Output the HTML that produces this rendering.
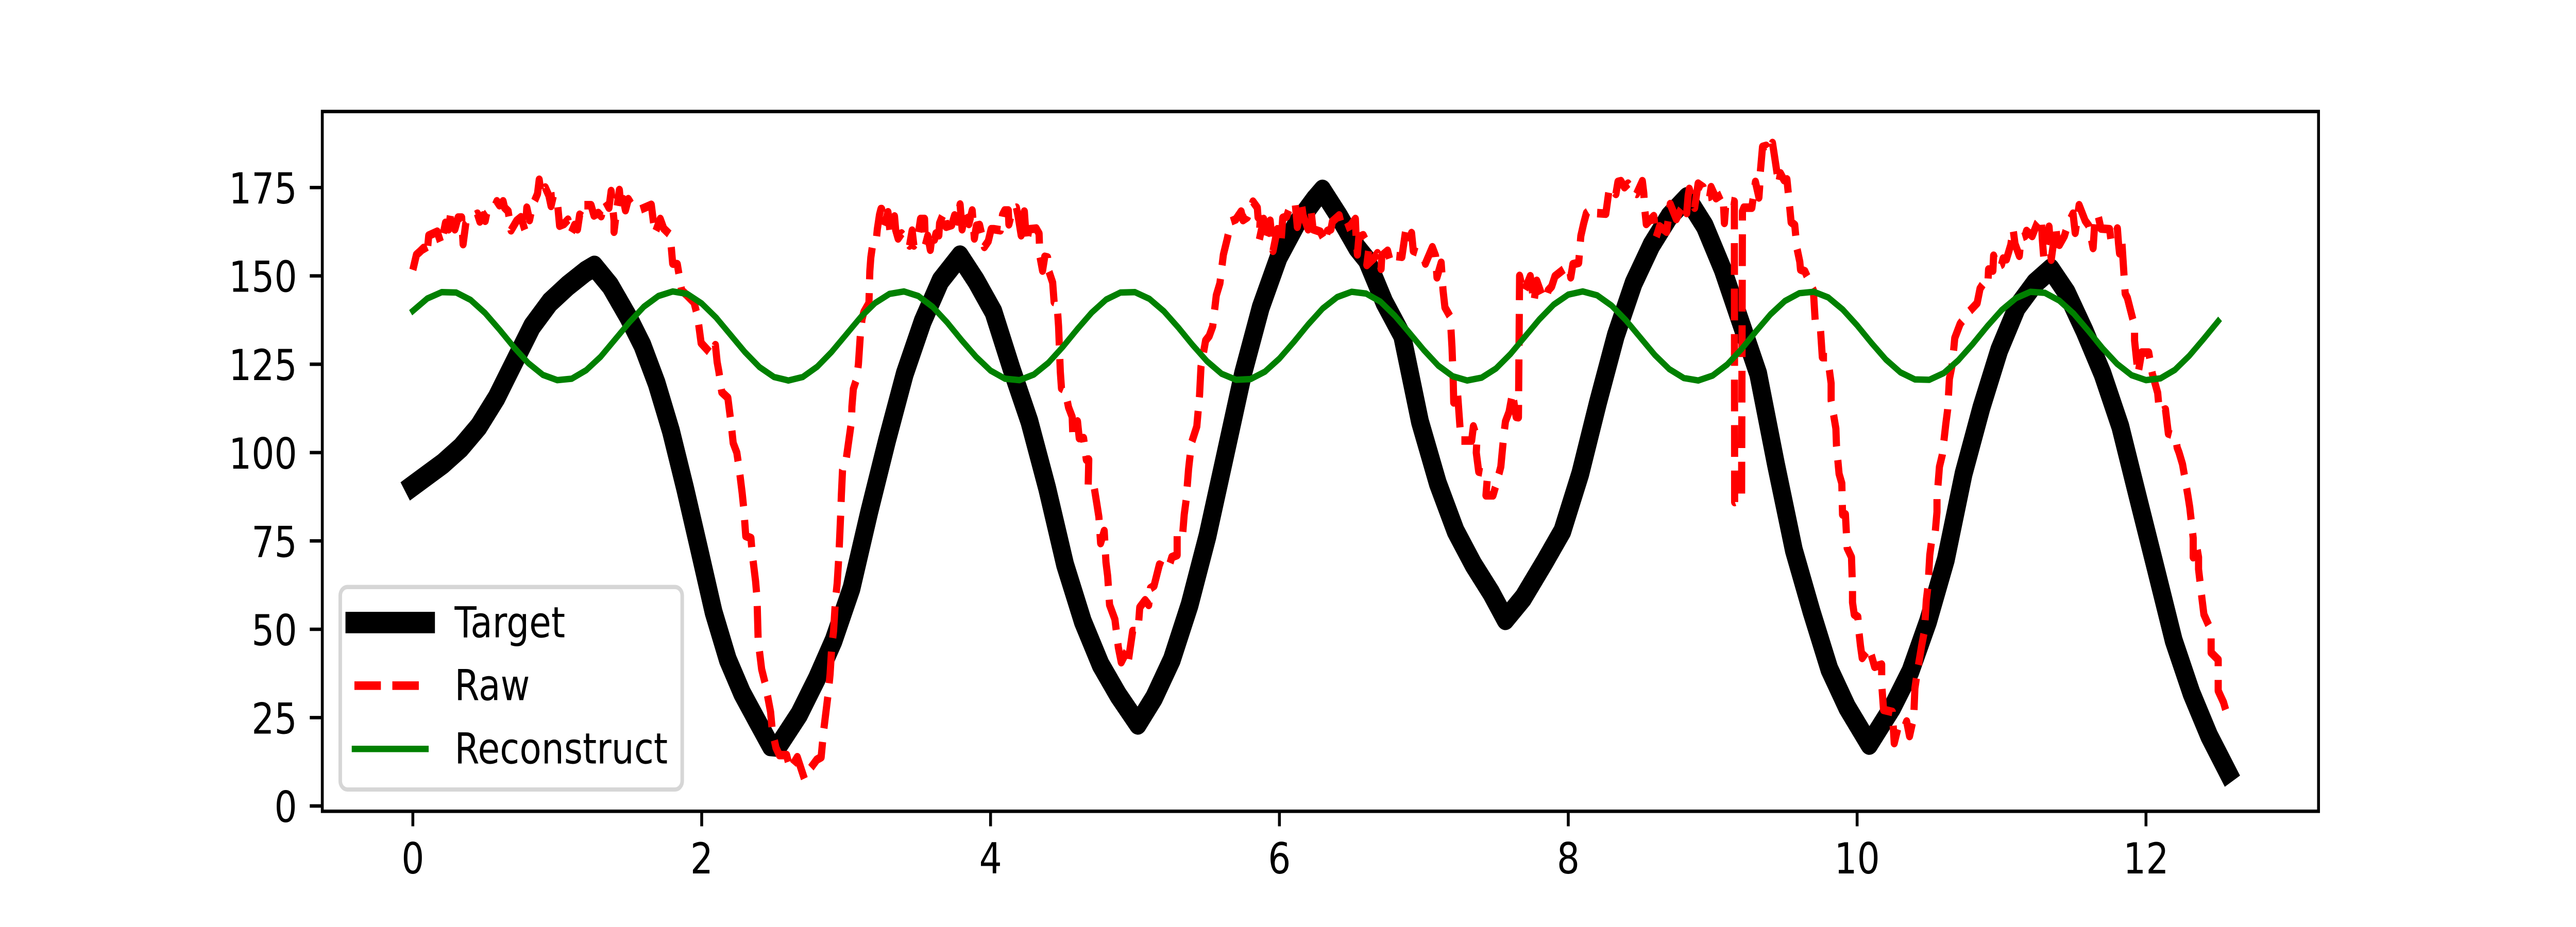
<!DOCTYPE html>
<html lang="en">
<head>
<meta charset="utf-8">
<title>Target, Raw and Reconstruct signals</title>
<style>
html,body{margin:0;padding:0;background:#fff;width:100%;height:100%;overflow:hidden}
svg{display:block;position:absolute;left:0;top:0;width:100%;height:100%}
text{font-family:"DejaVu Sans","Liberation Sans",sans-serif;font-size:83.33px;fill:#000}
</style>
</head>
<body>
<svg id="chart" xmlns="http://www.w3.org/2000/svg" viewBox="0 0 6000 1800" preserveAspectRatio="none">
  <rect x="0" y="0" width="6000" height="1800" fill="#fff"/>
  <g id="series"></g>
  <g id="ticks"></g>
  <rect x="750.7" y="216.5" width="4649.6" height="1358.8" fill="none" stroke="#000" stroke-width="6.67"/>
  <g>
    <rect x="792.5" y="1139.8" width="796.5" height="393.2" rx="16.7" ry="16.7" fill="#fff" fill-opacity="0.8" stroke="#d6d6d6" stroke-width="8.33"/>
    <g>
      <line x1="825.5" x2="992.2" y1="1208.8" y2="1208.8" stroke="#000" stroke-width="41.67" stroke-linecap="square"/>
      <text x="1058.8" y="1237.3">Target</text>
    </g>
    <g>
      <line x1="825.5" x2="992.2" y1="1331.3" y2="1331.3" stroke="#f00" stroke-width="16.67" stroke-dasharray="61.67 26.67"/>
      <text x="1058.8" y="1359.5">Raw</text>
    </g>
    <g>
      <line x1="825.5" x2="992.2" y1="1454.3" y2="1454.3" stroke="#008000" stroke-width="12.5" stroke-linecap="square"/>
      <text x="1058.8" y="1482.7">Reconstruct</text>
    </g>
  </g>
</svg>
<script>
const xTickValues = [0, 2, 4, 6, 8, 10, 12];
const xTickLabels = ["0", "2", "4", "6", "8", "10", "12"];
const yTickValues = [0, 25, 50, 75, 100, 125, 150, 175];
const yTickLabels = ["0", "25", "50", "75", "100", "125", "150", "175"];
const targetTime = [0,.209,.332,.456,.579,.702,.825,.948,1.072,1.195,1.257,1.367,1.491,1.589,1.688,1.787,1.885,1.984,2.082,2.181,2.28,2.378,2.477,2.53,2.674,2.797,2.913,3.037,3.16,3.283,3.406,3.53,3.653,3.788,3.9,4.02,4.146,4.269,4.392,4.516,4.639,4.762,4.885,5.02,5.132,5.255,5.378,5.502,5.625,5.748,5.871,5.995,6.118,6.241,6.298,6.414,6.537,6.604,6.727,6.85,6.973,7.097,7.22,7.343,7.466,7.565,7.688,7.836,7.959,8.083,8.206,8.329,8.452,8.576,8.699,8.822,8.945,9.069,9.192,9.315,9.438,9.562,9.685,9.808,9.931,10.084,10.244,10.368,10.491,10.614,10.737,10.861,10.984,11.107,11.23,11.341,11.452,11.575,11.699,11.822,11.945,12.069,12.192,12.315,12.438,12.566];
const targetValues = [90.6,96.9,101.4,107.4,115.5,125.6,135.7,142.5,147.2,151.2,152.7,147.2,138.4,130.4,119.6,106.1,89.9,72.4,54.9,41.4,31.9,24.5,17.1,16.9,25.9,36,46.8,61.6,83.2,103.4,122.3,137.1,148.6,155.6,148.6,139.8,123.6,108.8,89.9,68.3,52.2,40,31.3,23.2,30.6,41.4,56.9,76.4,99.3,122.3,141.1,155.3,164.7,171.5,174.2,166.8,158,154.6,142.5,133.1,108.8,91.3,77.8,68.3,60.3,52.8,58.9,69,77.8,94,114.2,133.1,147.9,158.7,166.8,172.1,164.1,151.9,137.1,122.3,96.7,72.4,54.9,38.7,27.9,17.5,27.9,38,52.2,69.7,94,112.8,129,141.1,147.9,151.9,145.2,134.4,122.3,107.4,87.2,67,46.8,31.9,19.8,9.6];
const rawTime = [0,.025,.05,.075,.097,.11,.169,.196,.226,.248,.263,.288,.291,.313,.338,.348,.367,.397,.447,.464,.486,.501,.511,.536,.561,.582,.6,.625,.635,.66,.68,.719,.749,.779,.789,.808,.828,.863,.875,.888,.917,.942,.957,.972,.997,1.016,1.046,1.074,1.096,1.12,1.14,1.155,1.18,1.187,1.234,1.254,1.284,1.304,1.334,1.358,1.373,1.383,1.393,1.393,1.408,1.43,1.443,1.457,1.472,1.492,1.516,1.577,1.651,1.676,1.713,1.737,1.782,1.799,1.831,1.861,1.898,1.947,1.972,1.996,2.07,2.095,2.107,2.119,2.139,2.181,2.206,2.218,2.243,2.26,2.28,2.292,2.305,2.341,2.349,2.373,2.383,2.391,2.415,2.44,2.477,2.489,2.514,2.538,2.588,2.612,2.662,2.711,2.748,2.797,2.827,2.844,2.876,2.889,2.901,2.913,2.926,2.938,2.95,2.963,2.967,2.975,3,3.037,3.04,3.05,3.073,3.085,3.098,3.11,3.123,3.158,3.164,3.171,3.181,3.206,3.216,3.231,3.241,3.246,3.263,3.29,3.303,3.335,3.343,3.36,3.384,3.439,3.457,3.469,3.493,3.515,3.543,3.545,3.548,3.565,3.583,3.597,3.612,3.622,3.642,3.647,3.679,3.692,3.731,3.751,3.771,3.789,3.803,3.825,3.85,3.873,3.888,3.902,3.924,3.949,3.957,3.984,4.004,4.024,4.068,4.083,4.098,4.123,4.127,4.152,4.179,4.192,4.212,4.234,4.249,4.266,4.316,4.336,4.341,4.36,4.375,4.395,4.4,4.43,4.44,4.46,4.471,4.483,4.491,4.516,4.54,4.565,4.57,4.602,4.614,4.644,4.663,4.68,4.676,4.713,4.737,4.75,4.762,4.787,4.799,4.811,4.824,4.861,4.885,4.905,4.947,4.954,4.984,5.021,5.033,5.07,5.095,5.107,5.132,5.169,5.23,5.255,5.292,5.292,5.329,5.341,5.354,5.371,5.391,5.428,5.447,5.457,5.489,5.514,5.538,5.563,5.588,5.612,5.639,5.664,5.698,5.735,5.748,5.778,5.817,5.847,5.852,5.867,5.86,5.891,5.901,5.936,5.956,5.986,6.01,6.023,6.05,6.067,6.109,6.124,6.154,6.164,6.199,6.219,6.233,6.283,6.318,6.332,6.357,6.367,6.414,6.437,6.491,6.526,6.531,6.54,6.55,6.58,6.62,6.605,6.654,6.679,6.704,6.709,6.749,6.768,6.793,6.848,6.873,6.892,6.915,6.927,6.996,7.011,7.059,7.081,7.091,7.12,7.133,7.146,7.183,7.195,7.203,7.207,7.232,7.244,7.257,7.294,7.331,7.343,7.368,7.363,7.38,7.442,7.43,7.479,7.503,7.533,7.553,7.565,7.59,7.614,7.639,7.655,7.663,7.69,7.737,7.762,7.782,7.824,7.848,7.861,7.885,7.908,7.973,8.007,8.017,8.032,8.072,8.087,8.107,8.126,8.161,8.186,8.26,8.285,8.33,8.344,8.364,8.389,8.414,8.449,8.473,8.513,8.523,8.528,8.54,8.592,8.609,8.632,8.681,8.706,8.748,8.78,8.802,8.82,8.83,8.838,8.875,8.899,8.934,8.949,8.979,8.989,9.023,9.068,9.073,9.081,9.093,9.15,9.152,9.2,9.206,9.216,9.271,9.279,9.296,9.32,9.325,9.33,9.345,9.37,9.39,9.414,9.429,9.444,9.457,9.469,9.494,9.514,9.533,9.543,9.568,9.583,9.603,9.608,9.638,9.697,9.71,9.746,9.759,9.796,9.82,9.82,9.853,9.857,9.875,9.894,9.899,9.919,9.931,9.961,9.968,9.968,9.98,10.005,10.012,10.023,10.035,10.084,10.121,10.17,10.17,10.183,10.244,10.257,10.281,10.318,10.343,10.363,10.392,10.4,10.417,10.447,10.466,10.479,10.491,10.503,10.516,10.54,10.553,10.553,10.57,10.59,10.614,10.627,10.639,10.659,10.676,10.713,10.774,10.831,10.851,10.875,10.905,10.91,10.94,10.945,10.97,11,11.011,11.034,11.064,11.08,11.093,11.123,11.135,11.163,11.173,11.212,11.247,11.275,11.282,11.292,11.329,11.344,11.376,11.386,11.401,11.435,11.46,11.495,11.51,11.537,11.579,11.604,11.634,11.648,11.668,11.688,11.748,11.757,11.782,11.802,11.81,11.817,11.832,11.842,11.856,11.871,11.896,11.921,11.921,11.945,11.97,12.019,12.044,12.081,12.093,12.135,12.155,12.204,12.216,12.229,12.253,12.29,12.303,12.327,12.327,12.347,12.364,12.364,12.389,12.401,12.438,12.451,12.451,12.5,12.5,12.5,12.537,12.566];
const rawValues = [151.7,156,156.9,157.9,155.7,161.4,162.5,159,165,163.2,168.1,168.1,163.2,166.5,166.5,159,165,166.4,167.6,165.4,167.1,165.6,167.6,168.6,169.1,171.1,170,171.1,169.3,168.3,162.9,165.6,166.6,162.5,169.3,165.8,169.8,173.2,177.2,173,175,172.7,169.8,172.5,172.6,164.2,164.7,165.9,162.1,164.4,163.2,167.3,166.6,170,170,167.1,167.8,166.9,171.1,169.3,174,169.8,165.6,162.5,167.6,174.3,168.3,171.7,168.6,171.7,170.1,168.8,170.1,162,166.1,163.4,161.6,153.5,153.3,145.9,144.5,142.5,138.4,131,127.7,130.4,125.6,122.9,117.1,115.5,107.4,102.7,100,95.3,88.6,83.8,76.4,75.8,71.7,63.6,58.9,46.8,38.7,34.6,26.6,21.2,16.5,14.4,14.4,10.4,13.8,7.7,10.4,13.1,13.8,21.2,31.9,37.3,45.4,49.5,58.2,63,71,83.2,87.9,95,98,108.8,113,118,120.9,125,133,137.8,139.8,142.3,151.3,155.2,158.1,159.1,163.2,167.3,168.9,168.9,164.2,168,162.9,166.8,163,160.6,162,158.6,162.8,158.6,160,166.1,166.1,163.9,158.6,161.3,157.4,162.1,160.3,162,161.5,164.9,168.2,163.9,164.4,167.1,165.4,170.2,163.2,167.8,164.7,168.5,160.6,164.2,164.4,159.8,158.2,159.8,163.2,163.2,162.9,167.3,168.5,168.5,164.6,168.8,169.3,166.6,161.5,168.2,159.3,163.2,163.4,162,155.7,151.5,155.4,155.2,151.8,148.1,142.6,142.3,135.7,122.9,118.2,117.6,112.8,110.1,104.7,108.8,104.1,104.1,98,98,90.6,91.3,85.2,81.8,74.4,77.8,69,65,56.9,52.8,44.8,40.7,44.1,41.1,49.5,49.5,56.2,58.2,56.9,61.6,62.3,68.3,67,70.4,71,77.1,76.4,82.5,86.5,95.3,102.7,107.4,116.2,124.3,131.7,133,135.7,144.5,147.9,156,160.5,165.4,166,168.2,165.8,166.6,171,169.3,166.6,166.1,160,166.1,160.3,165.6,157.1,163.2,158.8,166.4,166.8,168.9,170.7,163.9,170,167.1,163.2,168.5,163.2,162.5,159.5,162.7,163.2,165.4,167.1,163,164.2,166.1,161,156.1,161,161.5,157.9,153.1,155,156.4,152,155.7,157.1,154,155.7,155.4,162.5,159.3,162.1,157.1,155.9,153.5,158.1,155.7,149.6,153.7,145.9,141.1,138.4,129.7,120.9,114.2,117.6,110.8,103.4,103.4,103.4,107.4,104.1,100,94.6,94,87.9,87.9,91.3,96,104.7,108.8,111.5,116.9,110.1,110,150,145.2,149.9,142.5,148.6,143.8,143.8,145.9,147,149.9,152,152.5,149.6,153.3,153.7,161.3,164.9,167.8,169,167.8,167.6,175.1,173.2,176.6,176.8,175.1,176.1,173.7,173.2,176.8,173.4,169.5,164.7,166.9,161,164,162.5,170.3,166.1,168.8,170.3,167.8,172.7,174.6,169.3,176.1,175.1,172.2,172.4,175.1,172,173.2,171.5,165,171.5,171,86,87,168.3,169.3,169.3,171.7,176.6,172.2,175.1,179.5,186.5,186.8,185.1,187.6,183.6,179.5,176.1,179,177.1,177.3,169.5,165.2,164.4,157.9,154,151.8,151.3,145.9,137.1,135.1,127,127,119.6,114.8,106.8,102,94,91.3,82.5,82.5,73,70.4,61.6,57.6,54.2,53.5,49.5,45.4,41.9,44.8,39.4,40,34.6,27.2,26.6,17.8,21.8,21.2,23.9,19.8,25.2,33.3,38,45.4,49.5,58.2,62.3,71,75.1,77.1,83.2,87.2,96,99.4,108.1,112.2,120.9,125,132.4,136.4,139.8,142.3,146.4,147.9,147.4,151.8,151.5,155.7,152.5,153.2,154.9,154.7,158.8,163.2,159.1,155.7,160.8,161.3,162.7,161.3,164.9,166.5,160.5,155.3,163.9,154.6,164.2,159.1,158.8,161.3,164.7,167.6,162.2,170,165.6,164.2,157.9,166.8,167.2,163.4,163.2,160.3,160.5,163.4,159.1,156.4,160.3,154,145,143.8,139.8,135.8,131.7,122.3,128.3,128.3,122.3,116.9,111.5,112.2,105.4,104.7,101.4,100,96.7,87.9,84.5,75.8,70.4,74.4,70.4,67,58.2,54.2,50.8,47.5,43.4,41.4,37.3,32.6,29.3,25.2];
const reconstructStartTime = 0;
const reconstructStepTime = 0.1;
const reconstructValues = [140.1,143.6,145.4,145.3,143.2,139.5,134.8,129.8,125.3,122,120.5,120.9,123.3,127.1,132,136.9,141.3,144.3,145.6,144.9,142.2,138.2,133.3,128.4,124.2,121.4,120.4,121.4,124.3,128.5,133.4,138.3,142.3,144.9,145.6,144.3,141.2,136.8,131.8,127.1,123.2,120.9,120.5,122.1,125.4,129.9,134.9,139.6,143.3,145.3,145.4,143.5,140,135.4,130.4,125.8,122.3,120.6,120.8,122.9,126.6,131.3,136.3,140.8,144,145.5,145,142.7,138.7,133.9,129,124.6,121.6,120.4,121.2,123.8,127.9,132.8,137.7,141.9,144.7,145.6,144.5,141.6,137.4,132.5,127.6,123.6,121.1,120.4,121.8,124.9,129.3,134.3,139.1,142.9,145.1,145.5,143.9,140.5,136,131,126.3,122.7,120.7,120.6,122.5,126.1,130.7,135.7,140.3,143.7,145.5,145.2,143,139.3,134.5,129.5,125.1,121.9,120.5,121,123.4,127.4,132.2,137.2];

const SVG_NS = "http://www.w3.org/2000/svg";
const xOrigin = 961.6, xPerUnit = 336.4;
const yOrigin = 1565, yPerUnit = 6.862;
const plotLeft = 750.7, plotBottom = 1575.3;

function xScale(t) { return xOrigin + t * xPerUnit; }
function yScale(v) { return yOrigin - v * yPerUnit; }

function linePath(times, values) {
  let d = "";
  for (let i = 0; i < values.length; i++) {
    d += (i ? "L" : "M") + xScale(times[i]).toFixed(2) + " " + yScale(values[i]).toFixed(2);
  }
  return d;
}

const seriesGroup = document.getElementById("series");
const tickGroup = document.getElementById("ticks");

const targetLine = document.createElementNS(SVG_NS, "path");


targetLine.setAttribute("d", linePath(targetTime, targetValues));
targetLine.setAttribute("fill", "none");
targetLine.setAttribute("stroke", "#000");
targetLine.setAttribute("stroke-width", "41.67");
targetLine.setAttribute("stroke-linejoin", "round");
targetLine.setAttribute("stroke-linecap", "square");
seriesGroup.appendChild(targetLine);

const rawLine = document.createElementNS(SVG_NS, "path");


rawLine.setAttribute("d", linePath(rawTime, rawValues));
rawLine.setAttribute("fill", "none");
rawLine.setAttribute("stroke", "#f00");
rawLine.setAttribute("stroke-width", "16.67");
rawLine.setAttribute("stroke-linejoin", "round");
rawLine.setAttribute("stroke-dasharray", "61.67 26.67");
seriesGroup.appendChild(rawLine);

const reconstructTime = reconstructValues.map(function (_, i) { return reconstructStartTime + i * reconstructStepTime; });
const reconstructLine = document.createElementNS(SVG_NS, "path");


reconstructLine.setAttribute("d", linePath(reconstructTime, reconstructValues));
reconstructLine.setAttribute("fill", "none");
reconstructLine.setAttribute("stroke", "#008000");
reconstructLine.setAttribute("stroke-width", "12.5");
reconstructLine.setAttribute("stroke-linejoin", "round");
reconstructLine.setAttribute("stroke-linecap", "square");
seriesGroup.appendChild(reconstructLine);

xTickValues.forEach(function (value, i) {
  const mark = document.createElementNS(SVG_NS, "line");
  
  
  mark.setAttribute("x1", xScale(value));
  mark.setAttribute("x2", xScale(value));
  mark.setAttribute("y1", plotBottom);
  mark.setAttribute("y2", plotBottom + 29.17);
  mark.setAttribute("stroke", "#000");
  mark.setAttribute("stroke-width", "6.67");
  tickGroup.appendChild(mark);
  const label = document.createElementNS(SVG_NS, "text");
  
  
  label.setAttribute("x", xScale(value));
  label.setAttribute("y", 1696);
  label.setAttribute("text-anchor", "middle");
  label.textContent = xTickLabels[i];
  tickGroup.appendChild(label);
});

yTickValues.forEach(function (value, i) {
  const mark = document.createElementNS(SVG_NS, "line");
  
  
  mark.setAttribute("x1", plotLeft - 29.17);
  mark.setAttribute("x2", plotLeft);
  mark.setAttribute("y1", yScale(value));
  mark.setAttribute("y2", yScale(value));
  mark.setAttribute("stroke", "#000");
  mark.setAttribute("stroke-width", "6.67");
  tickGroup.appendChild(mark);
  const label = document.createElementNS(SVG_NS, "text");
  
  
  label.setAttribute("x", 692);
  label.setAttribute("y", yScale(value) + 31);
  label.setAttribute("text-anchor", "end");
  label.textContent = yTickLabels[i];
  tickGroup.appendChild(label);
});
</script>
</body>
</html>
